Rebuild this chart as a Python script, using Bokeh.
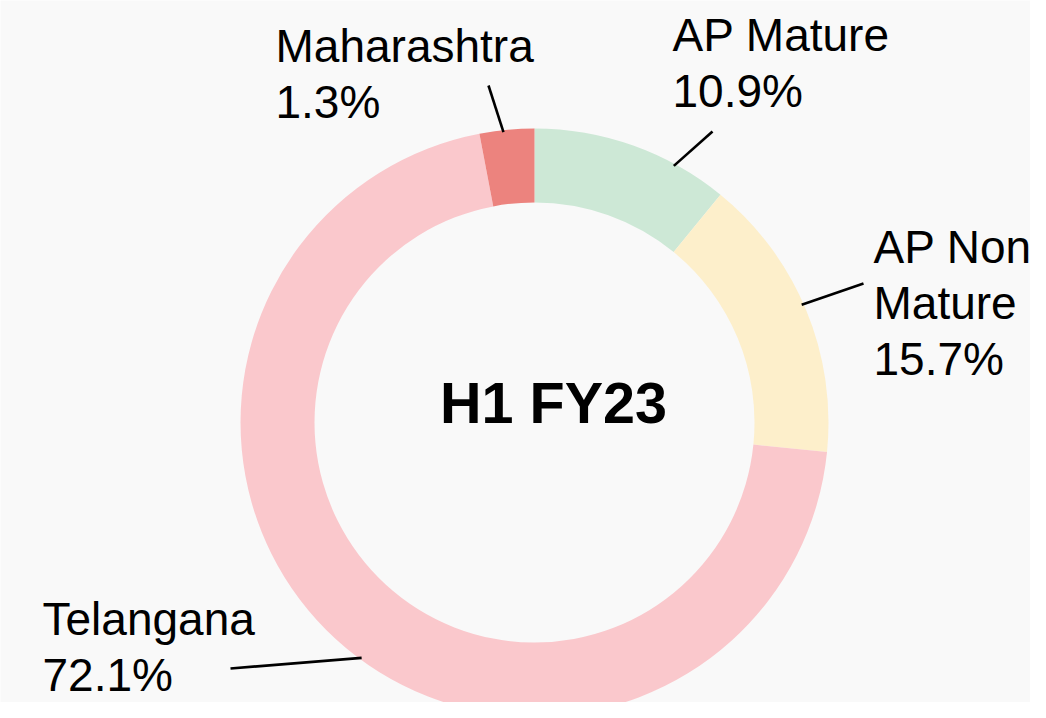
import math
from bokeh.plotting import figure
from bokeh.models import Range1d, ColumnDataSource
from bokeh.core.properties import value
from bokeh.embed import file_html
from bokeh.resources import INLINE

# ---- data ----
title = "H1 FY23"
categories = ["AP Mature", "AP Non\nMature", "Telangana", "Maharashtra"]
pct_labels = [10.9, 15.7, 72.1, 1.3]          # values printed on the labels
arc_share = [10.9, 15.7, 70.4, 3.0]           # arc size as drawn (small slice widened)
colors = ["#cde8d6", "#fdefcb", "#fac8cc", "#ec837e"]

# ---- layout (pixels from the figure's top-left) ----
FW, FH = 1030, 702
CX, CY = 534, 422
R_OUT, R_IN = 294, 220
LAB_FS, TITLE_FS = 46, 57.5
label_pos = [(672, 52), (873, 264), (42, 636), (275, 63)]   # left, first baseline
line_gap = 56
lead_ang = [28.5, 66.2, 216.3, -6.1]                       # degrees clockwise from top
lead_r = 292
lead_end = [(712, 131), (863, 283), (230, 668), (488, 85)]
BASE_FIX = 0.39   # svg text sits lower than the requested baseline by ~0.39 em

def Y(sy):
    return FH - sy

p = figure(width=FW, height=FH, output_backend="svg", toolbar_location=None,
           x_range=Range1d(0, FW), y_range=Range1d(0, FH),
           min_border=0, background_fill_color="#f9f9f9",
           border_fill_color="#f9f9f9", outline_line_color=None)
p.axis.visible = False
p.grid.visible = False

total = sum(arc_share)
starts, ends = [], []
cum = 0.0
for v in arc_share:
    a0 = cum / total * 2 * math.pi
    cum += v
    a1 = cum / total * 2 * math.pi
    starts.append(math.pi / 2 - a0)
    ends.append(math.pi / 2 - a1)

src = ColumnDataSource(dict(x=[CX] * len(arc_share), y=[Y(CY)] * len(arc_share),
                            start=starts, end=ends, color=colors))
p.annular_wedge(x="x", y="y", inner_radius=R_IN, outer_radius=R_OUT,
                start_angle="start", end_angle="end", direction="clock",
                fill_color="color", line_color=None, source=src)

# leader lines
xs, ys = [], []
for ang, (ex, ey) in zip(lead_ang, lead_end):
    t = math.radians(ang)
    sx = CX + lead_r * math.sin(t)
    sy = CY - lead_r * math.cos(t)
    xs.append([sx, ex])
    ys.append([Y(sy), Y(ey)])
p.multi_line(xs=xs, ys=ys, line_color="#000000", line_width=2.6)

# labels
tx, ty, tt = [], [], []
for cat, pct, (lx, ly) in zip(categories, pct_labels, label_pos):
    lines = cat.split("\n") + [f"{pct:.1f}%"]
    for i, s in enumerate(lines):
        tx.append(lx)
        ty.append(Y(ly + i * line_gap - BASE_FIX * LAB_FS))
        tt.append(s)
p.text(x=tx, y=ty, text=tt, text_font=value("Liberation Sans"),
       text_font_size=f"{LAB_FS}px", text_color="#000000",
       text_align="left", text_baseline="alphabetic")

p.text(x=[553], y=[Y(425 - BASE_FIX * TITLE_FS)], text=[title],
       text_font=value("Liberation Sans"),
       text_font_size=f"{TITLE_FS}px", text_font_style="bold", text_color="#000000",
       text_align="center", text_baseline="alphabetic")

open("out.html", "w").write(file_html(p, INLINE))
